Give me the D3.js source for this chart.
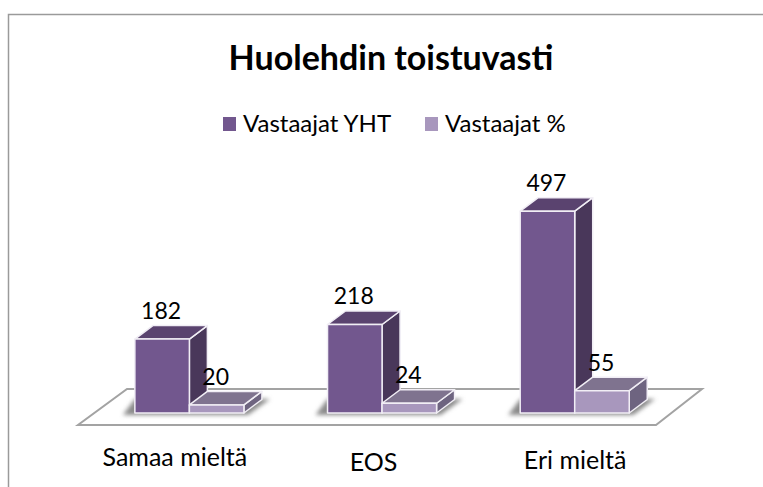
<!DOCTYPE html>
<html>
<head>
<meta charset="utf-8">
<script src="https://cdnjs.cloudflare.com/ajax/libs/d3/7.8.5/d3.min.js"></script>
<style>
html, body { margin: 0; padding: 0; background: #fff; }
text { font-family: Lato, "Open Sans", sans-serif; fill: #000; }
</style>
</head>
<body>
<div id="chart"></div>
<script>
const categories = ["Samaa mieltä", "EOS", "Eri mieltä"];
const seriesNames = ["Vastaajat YHT", "Vastaajat %"];
const yhtValues = [182, 218, 497];
const pctValues = [20, 24, 55];

const width = 763, height = 487;
const baseY = 413, floorFront = 425, floorBack = 389;
const depthX = 18, depthY = 13.5;

const palette = [
	{front: "#72578e", top: "#5a436f", side: "#49375a"},
	{front: "#a897bd", top: "#7f738f", side: "#6e6480"}
];

const svg = d3.select("#chart").append("svg")
	.attr("width", width)
	.attr("height", height)
	.style("display", "block");

// frame, only top and left are in the picture
svg.append("path")
	.attr("d", "M8.5," + height + "V14.5H" + width)
	.attr("fill", "none")
	.attr("stroke", "#9a9a9a")
	.attr("stroke-width", 1.5);

svg.append("text")
	.attr("x", 391).attr("y", 70)
	.attr("text-anchor", "middle")
	.style("font-size", "34px")
	.style("font-weight", "bold")
	.text("Huolehdin toistuvasti");

const x0 = d3.scaleBand()
	.domain(categories)
	.range([78, 656])
	.paddingInner(0.434)
	.paddingOuter(0.217)
	.align(0.68);
const x1 = d3.scaleBand()
	.domain(seriesNames)
	.range([0, x0.bandwidth()]);
const y = d3.scaleLinear()
	.domain([0, 500])
	.range([baseY, baseY - 203]);

// floor
svg.append("path")
	.attr("d", d3.line()([
		[x0.range()[0] + 49, floorBack], [702, floorBack],
		[x0.range()[1], floorFront], [x0.range()[0], floorFront]
	]) + "Z")
	.attr("fill", "#fff")
	.attr("stroke", "#a3a3a3")
	.attr("stroke-width", 2);

const defs = svg.append("defs");
defs.append("filter").attr("id", "blur")
	.attr("x", "-20%").attr("y", "-100%")
	.attr("width", "140%").attr("height", "300%")
	.append("feGaussianBlur").attr("stdDeviation", 2);

const groups = svg.selectAll("g.cat")
	.data(categories)
	.enter().append("g")
	.attr("class", "cat")
	.attr("transform", d => "translate(" + x0(d) + ",0)");

// soft shadow on the floor
groups.append("path")
	.attr("d", d3.line()([
		[-12, baseY + 2], [x0.bandwidth() + 4, baseY + 2],
		[x0.bandwidth() + 26, baseY - 14], [0, baseY - 14]
	]))
	.attr("fill", "#8a8a8a")
	.attr("filter", "url(#blur)");

const rows = categories.map((c, i) => [
	{cat: c, s: 0, name: seriesNames[0], value: yhtValues[i]},
	{cat: c, s: 1, name: seriesNames[1], value: pctValues[i]}
]);

const bars = groups.selectAll("g.bar")
	.data((d, i) => rows[i])
	.enter().append("g")
	.attr("class", "bar");

function addFace(cls, pts, color){
	bars.append("path")
		.attr("class", cls)
		.attr("d", d => d3.line()(pts(d)) + "Z")
		.attr("fill", d => palette[d.s][color])
		.attr("stroke", "#f1eef5")
		.attr("stroke-width", 1.5)
		.attr("stroke-linejoin", "round");
}

addFace("side", d => {
	const r = x1(d.name) + x1.bandwidth();
	return [[r, y(d.value)], [r + depthX, y(d.value) - depthY], [r + depthX, baseY - depthY], [r, baseY]];
}, "side");
addFace("top", d => {
	const l = x1(d.name), r = l + x1.bandwidth();
	return [[l, y(d.value)], [l + depthX, y(d.value) - depthY], [r + depthX, y(d.value) - depthY], [r, y(d.value)]];
}, "top");
addFace("front", d => {
	const l = x1(d.name), r = l + x1.bandwidth();
	return [[l, y(d.value)], [r, y(d.value)], [r, baseY], [l, baseY]];
}, "front");

// value labels go on last, they sit over the neighbouring bar
groups.selectAll("text.val")
	.data((d, i) => rows[i])
	.enter().append("text")
	.attr("class", "val")
	.attr("x", d => x1(d.name) + x1.bandwidth() / 2 - 1)
	.attr("y", d => y(d.value) - 20)
	.attr("text-anchor", "middle")
	.style("font-size", "23px")
	.text(d => d.value);

// category labels are not evenly placed in the original
const catDx = [40, 46, 55];
const catY = [466, 471, 469];
svg.selectAll("text.cat")
	.data(categories)
	.enter().append("text")
	.attr("class", "cat")
	.attr("x", (d, i) => x0(d) + catDx[i])
	.attr("y", (d, i) => catY[i])
	.attr("text-anchor", "middle")
	.style("font-size", "25px")
	.text(d => d);

// legend
const legendX = [223, 425];
const legend = svg.selectAll("g.legend")
	.data(seriesNames)
	.enter().append("g")
	.attr("class", "legend")
	.attr("transform", (d, i) => "translate(" + legendX[i] + ",0)");
legend.append("rect")
	.attr("y", 117).attr("width", 13).attr("height", 14)
	.attr("fill", (d, i) => palette[i].front);
legend.append("text")
	.attr("x", 20).attr("y", 132)
	.style("font-size", "24px")
	.text(d => d);
</script>
</body>
</html>
